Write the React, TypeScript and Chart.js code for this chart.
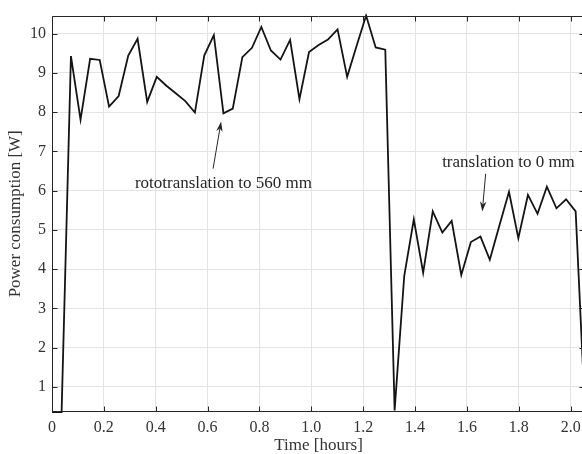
import React, { useEffect, useRef } from 'react';
import { Chart, registerables } from 'chart.js';

Chart.register(...registerables);

// Time in hours
const timeHours = [
  0, 0.037, 0.073, 0.110, 0.147, 0.184, 0.220, 0.257, 0.294, 0.330,
  0.367, 0.404, 0.440, 0.477, 0.514, 0.551, 0.587, 0.624, 0.661, 0.697,
  0.734, 0.771, 0.807, 0.844, 0.881, 0.918, 0.954, 0.991, 1.028, 1.064,
  1.101, 1.138, 1.174, 1.211, 1.248, 1.285, 1.321, 1.358, 1.395, 1.431,
  1.468, 1.505, 1.541, 1.578, 1.615, 1.652, 1.688, 1.725, 1.762, 1.798,
  1.835, 1.872, 1.908, 1.945, 1.982, 2.019, 2.055,
];

// Power consumption in W
const powerW = [
  0.36, 0.36, 9.43, 7.81, 9.36, 9.33, 8.14, 8.41, 9.44, 9.87,
  8.26, 8.90, 8.68, 8.48, 8.28, 7.99, 9.44, 9.96, 7.97, 8.09,
  9.40, 9.64, 10.17, 9.57, 9.34, 9.84, 8.33, 9.53, 9.71, 9.85,
  10.11, 8.90, 9.68, 10.46, 9.65, 9.59, 0.40, 3.82, 5.27, 3.91,
  5.47, 4.93, 5.23, 3.85, 4.69, 4.83, 4.24, 5.11, 5.97, 4.79,
  5.89, 5.41, 6.10, 5.55, 5.78, 5.47, 0.36,
];

const xRange = [0, 2.055];
const yRange = [0.36, 10.46];
const xTickStep = 0.2;
const yTickStep = 1;

const xTitle = 'Time [hours]';
const yTitle = 'Power consumption [W]';

const annotationTexts = ['rototranslation to 560 mm', 'translation to 0 mm'];
const annotationTextPos = [[0.661, 6.17], [1.760, 6.71]];
const annotationArrowFrom = [[0.621, 6.56], [1.672, 6.43]];
const annotationArrowTo = [[0.652, 7.76], [1.659, 5.47]];

const FONT = "'Liberation Serif', 'Times New Roman', serif";
const AXIS_COLOR = '#262626';
const TEXT_COLOR = '#333333';

const boxPlugin = {
  id: 'matlabBox',
  afterDatasetsDraw(chart: any) {
    const { ctx, chartArea } = chart;
    const { left, right, top, bottom } = chartArea;
    const xs = chart.scales.x;
    const ys = chart.scales.y;
    ctx.save();
    ctx.strokeStyle = AXIS_COLOR;
    ctx.lineWidth = 1;
    const L = Math.round(left) + 0.5;
    const R = Math.round(right) - 0.5;
    const T = Math.round(top) + 0.5;
    const B = Math.round(bottom) - 0.5;
    ctx.beginPath();
    ctx.rect(L, T, R - L, B - T);
    ctx.stroke();
    const tl = 5;
    ctx.beginPath();
    xs.ticks.forEach((t: any) => {
      const px = Math.round(xs.getPixelForValue(t.value)) + 0.5;
      ctx.moveTo(px, B);
      ctx.lineTo(px, B - tl);
      ctx.moveTo(px, T);
      ctx.lineTo(px, T + tl);
    });
    ys.ticks.forEach((t: any) => {
      const py = Math.round(ys.getPixelForValue(t.value)) + 0.5;
      ctx.moveTo(L, py);
      ctx.lineTo(L + tl, py);
      ctx.moveTo(R, py);
      ctx.lineTo(R - tl, py);
    });
    ctx.stroke();

    // annotations
    ctx.fillStyle = AXIS_COLOR;
    ctx.font = `17px ${FONT}`;
    ctx.textAlign = 'center';
    ctx.textBaseline = 'middle';
    annotationTexts.forEach((txt, i) => {
      const [tx, ty] = annotationTextPos[i];
      ctx.fillText(txt, xs.getPixelForValue(tx), ys.getPixelForValue(ty));
      const [fx, fy] = annotationArrowFrom[i];
      const [ex, ey] = annotationArrowTo[i];
      const x1 = xs.getPixelForValue(fx);
      const y1 = ys.getPixelForValue(fy);
      const x2 = xs.getPixelForValue(ex);
      const y2 = ys.getPixelForValue(ey);
      const ang = Math.atan2(y2 - y1, x2 - x1);
      const hl = 10;
      const hw = 3.2;
      const bx = x2 - hl * Math.cos(ang);
      const by = y2 - hl * Math.sin(ang);
      ctx.beginPath();
      ctx.moveTo(x1, y1);
      ctx.lineTo(bx + 3 * Math.cos(ang), by + 3 * Math.sin(ang));
      ctx.lineWidth = 1;
      ctx.stroke();
      const nx = -Math.sin(ang);
      const ny = Math.cos(ang);
      ctx.beginPath();
      ctx.moveTo(x2, y2);
      ctx.lineTo(bx + nx * hw, by + ny * hw);
      ctx.lineTo(bx + 3 * Math.cos(ang), by + 3 * Math.sin(ang));
      ctx.lineTo(bx - nx * hw, by - ny * hw);
      ctx.closePath();
      ctx.fill();
    });
    ctx.restore();
  },
};

export default function App() {
  const canvasRef = useRef<HTMLCanvasElement | null>(null);

  useEffect(() => {
    if (!canvasRef.current) return;
    const data = timeHours.map((t, i) => ({ x: t, y: powerW[i] }));
    const chart = new Chart(canvasRef.current, {
      type: 'line',
      data: {
        datasets: [
          {
            data,
            borderColor: '#141414',
            borderWidth: 1.8,
            pointRadius: 0,
            tension: 0,
            fill: false,
            clip: 2,
          },
        ],
      },
      options: {
        animation: false,
        responsive: true,
        maintainAspectRatio: false,
        layout: { padding: { left: 0, top: 12.7, right: 15, bottom: 0 } },
        plugins: { legend: { display: false }, tooltip: { enabled: false } },
        scales: {
          x: {
            type: 'linear',
            min: xRange[0],
            max: xRange[1],
            afterFit: (s: any) => {
              s.height = 42;
            },
            ticks: {
              stepSize: xTickStep,
              includeBounds: false,
              autoSkip: false,
              maxRotation: 0,
              padding: 6,
              color: TEXT_COLOR,
              font: { family: FONT, size: 16 },
            },
            grid: { color: '#e4e4e4', lineWidth: 1, drawTicks: false },
            border: { display: false },
            title: {
              display: true,
              text: xTitle,
              color: TEXT_COLOR,
              font: { family: FONT, size: 17, lineHeight: 1 },
              padding: { top: 0, bottom: 0 },
            },
          },
          y: {
            type: 'linear',
            min: yRange[0],
            max: yRange[1],
            afterFit: (s: any) => {
              s.width = 52;
            },
            ticks: {
              stepSize: yTickStep,
              includeBounds: false,
              autoSkip: false,
              padding: 6,
              color: TEXT_COLOR,
              font: { family: FONT, size: 16 },
            },
            grid: { color: '#e4e4e4', lineWidth: 1, drawTicks: false },
            border: { display: false },
            title: {
              display: true,
              text: yTitle,
              color: TEXT_COLOR,
              font: { family: FONT, size: 17, lineHeight: 1 },
              padding: { top: 7, bottom: 0 },
            },
          },
        },
      },
      plugins: [boxPlugin],
    });
    return () => chart.destroy();
  }, []);

  return (
    <div
      style={{
        position: 'fixed',
        left: 0,
        top: 0,
        width: 582,
        height: 454,
        overflow: 'hidden',
        background: '#fff',
      }}
    >
      <div style={{ position: 'relative', width: 600, height: 454 }}>
        <canvas ref={canvasRef} />
      </div>
    </div>
  );
}
